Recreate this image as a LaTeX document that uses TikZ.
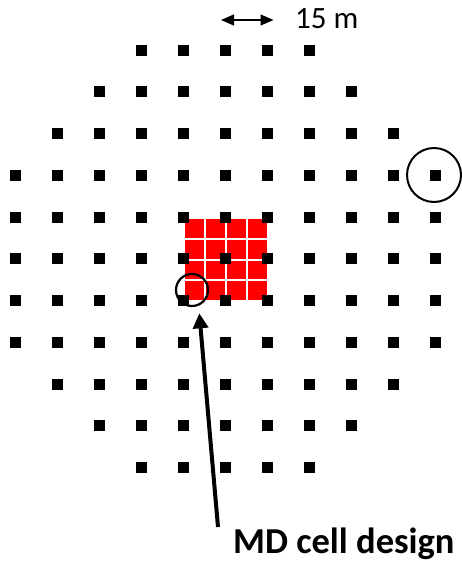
\documentclass[tikz,border=0pt]{standalone}
\usepackage{fontspec}
\setmainfont{Carlito}
\usetikzlibrary{arrows.meta}
\tikzset{
  dot/.style={fill=black},
  redcell/.style={fill=red},
  ring/.style={draw=black,circle,inner sep=0pt},
  pointer/.style={line width=4pt,-{Triangle[length=15pt,width=15pt]}},
  scalebar/.style={line width=1.2pt,{Triangle[length=13pt,width=11pt]}-{Triangle[length=13pt,width=11pt]}},
}
\begin{document}
\begin{tikzpicture}[x=1pt,y=-1pt]
\useasboundingbox (0,0) rectangle (462,562);
% red cells
\foreach \i in {0,...,3}{
  \foreach \j in {0,...,3}{
    \fill[redcell] ({183.5+21*\i+1},{218+20.75*\j+1}) rectangle ++(19,18.75);
  }
}
% dots
\foreach \r/\a/\b in {0/3/7,1/2/8,2/1/9,3/0/10,4/0/10,5/0/10,6/0/10,7/0/10,8/1/9,9/2/8,10/3/7}{
  \foreach \c in {\a,...,\b}{
    \fill[dot] ({15.7+41.95*\c-5.5},{50+41.75*\r-5.5}) rectangle ++(11,11);
  }
}
% circles
\node[ring,line width=2.2pt,minimum size=32pt] (smallc) at (192,290) {};
\node[ring,line width=2pt,minimum size=54pt] (bigc) at (434,175) {};
% scale bar
\coordinate (sbl) at (221,20);
\coordinate (sbr) at (273.5,20);
\draw[scalebar] (sbl) -- (sbr);
\node[anchor=base west,inner sep=0pt,font=\fontsize{31}{36}\selectfont] (scale) at (295,28.5) {15 m};
% pointer
\coordinate (tail) at (218,527);
\coordinate (tip) at (199.3,313.3);
\draw[pointer] (tail) -- (tip);
\node[anchor=base west,inner sep=0pt,font=\bfseries\fontsize{36.5}{40}\selectfont] (label) at (233,553) {MD cell design};
\end{tikzpicture}
\end{document}
